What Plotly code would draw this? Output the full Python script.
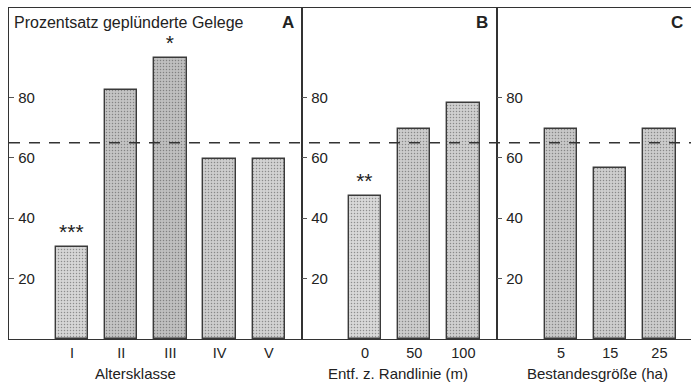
import plotly.graph_objects as go

# ---- data ----
age_classes = ["I", "II", "III", "IV", "V"]
age_values = [30.5, 82.5, 93, 59.5, 59.5]
age_stars = ["***", "", "*", "", ""]

edge_dist = ["0", "50", "100"]
edge_values = [47.5, 69.5, 78]
edge_stars = ["**", "", ""]

stand_size = ["5", "15", "25"]
stand_values = [69.5, 56.5, 69.5]
stand_stars = ["", "", ""]

mean_line = 65
y_ticks = [20, 40, 60, 80]

panel_letters = ["A", "B", "C"]
axis_titles = ["Altersklasse", "Entf. z. Randlinie (m)", "Bestandesgröße (ha)"]
y_title = "Prozentsatz geplünderte Gelege"

bar_colors_A = ["#d6d6d6", "#c4c4c4", "#bfbfbf", "#cdcdcd", "#d2d2d2"]
bar_colors_B = ["#d8d8d8", "#cccccc", "#cfcfcf"]
bar_colors_C = ["#c8c8c8", "#cecece", "#cccccc"]

W, H = 691, 385
FONT = "Liberation Sans, Arial, sans-serif"
LINE = "#333333"

panels = [
    (age_classes, age_values, age_stars, bar_colors_A, (9, 302)),
    (edge_dist, edge_values, edge_stars, bar_colors_B, (302, 497)),
    (stand_size, stand_values, stand_stars, bar_colors_C, (497, 691)),
]

fig = go.Figure()
layout = dict(
    width=W, height=H,
    margin=dict(l=0, r=0, t=8, b=46),
    plot_bgcolor="white", paper_bgcolor="white",
    showlegend=False,
    bargap=0,
    font=dict(family=FONT, size=14, color="#222222"),
)

YMAX = 109.6
npx = 49.2
for i, (cats, vals, stars, cols, (x0, x1)) in enumerate(panels):
    n = i + 1
    xa = "x" if n == 1 else f"x{n}"
    ya = "y" if n == 1 else f"y{n}"
    xkey = "xaxis" if n == 1 else f"xaxis{n}"
    ykey = "yaxis" if n == 1 else f"yaxis{n}"
    pos = list(range(len(cats)))
    fig.add_trace(go.Bar(
        x=pos, y=vals, xaxis=xa, yaxis=ya, width=0.66,
        marker=dict(color=cols, line=dict(color="#3a3a3a", width=1.4),
                    pattern=dict(shape=".", fgcolor="#a8a8a8", size=3, solidity=0.2,
                                 fillmode="overlay")),
        text=stars, textposition="outside", cliponaxis=False, constraintext="none",
        textfont=dict(size=21, color="#222222", family=FONT),
        hoverinfo="skip",
    ))
    left = (63.0 if n < 3 else 64.0) / npx
    layout[xkey] = dict(
        domain=[x0 / W, x1 / W], anchor=ya, range=[-left, -left + (x1 - x0) / npx],
        tickvals=pos, ticktext=cats, showgrid=False, zeroline=False,
        showline=True, mirror=True, linecolor=LINE, linewidth=1.3,
        ticks="", tickfont=dict(size=14.5, family=FONT, color="#222222"),
        fixedrange=True,
    )
    layout[ykey] = dict(
        anchor=xa, range=[0, YMAX], tickvals=y_ticks, showgrid=False, zeroline=False,
        showline=True, mirror=True, linecolor=LINE, linewidth=1.3,
        ticks="inside", ticklen=5, tickcolor="#555555",
        ticklabelposition="inside", ticklabelstandoff=4,
        tickfont=dict(size=15, family=FONT, color="#222222"),
        fixedrange=True,
    )

fig.update_layout(**layout)

# dashed mean line across all panels
fig.add_shape(type="line", xref="paper", yref="y", x0=9 / W, x1=1, y0=mean_line, y1=mean_line,
              line=dict(color="#333333", width=1.5, dash="11px,9px"), layer="above")

# panel texts
ty = (H - 23 - 46) / (H - 54)
fig.add_annotation(text=y_title, xref="paper", yref="paper", x=12 / W, y=ty,
                   xanchor="left", yanchor="middle", showarrow=False,
                   font=dict(size=16, family=FONT, color="#222222"))
letter_x = [296, 490, 685]
for L, lx in zip(panel_letters, letter_x):
    fig.add_annotation(text=f"<b>{L}</b>", xref="paper", yref="paper", x=lx / W,
                       y=ty, xanchor="right", yanchor="middle",
                       showarrow=False, font=dict(size=17, family=FONT, color="#222222"))

title_x = [135, 398, 597]
for t, tx in zip(axis_titles, title_x):
    fig.add_annotation(text=t, xref="paper", yref="paper", x=tx / W,
                       y=-(374 - 339) / (H - 54), xanchor="center", yanchor="middle",
                       showarrow=False, font=dict(size=15, family=FONT, color="#222222"))

fig.write_html("out.html", config={"displayModeBar": False},
               post_script="document.body.style.margin='0';")
